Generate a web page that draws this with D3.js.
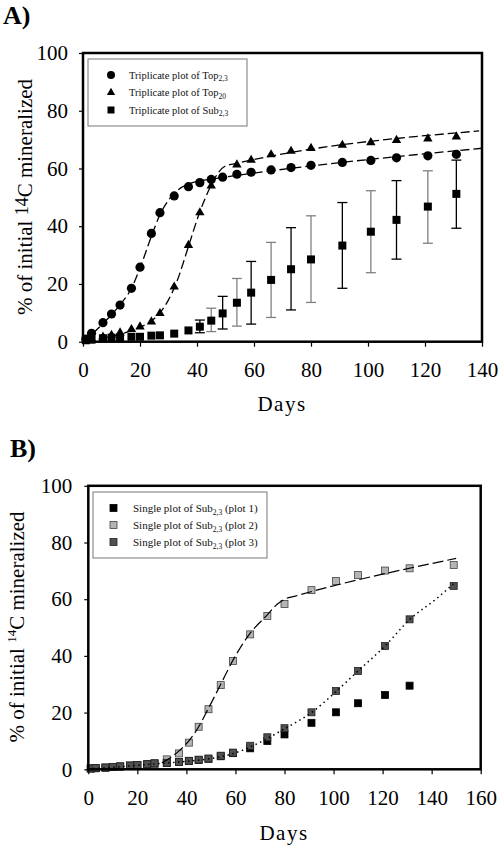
<!DOCTYPE html>
<html><head><meta charset="utf-8">
<script src="https://cdn.jsdelivr.net/npm/d3@7"></script>
<style>body{margin:0;background:#fff}svg{display:block}</style>
</head><body>
<svg id="c" width="500" height="846"></svg>
<script>
// ---------- Panel A data ----------
const daysA = [1,3,7,10,13,17,20,24,27,32,37,41,45,49,54,59,66,73,80,91,101,110,121,131];
const top23 = [0.9,2.9,6.6,9.6,12.7,18.5,25.8,37.5,44.7,50.5,53.7,55.1,56.2,57.0,58,58.7,59.5,60.3,61.1,62.1,62.8,63.7,64.4,64.9];
const top20 = [0.5,1.0,1.7,2.3,3.1,4.3,5.2,6.9,9.8,19,33.4,44.7,54,null,61.3,62.9,64.8,66,67,68.1,69,69.8,70.3,71];
const sub23 = [0.5,0.7,1.2,1.4,1.5,1.7,1.7,2.1,2.2,2.8,3.9,5.2,7.3,9.8,13.5,17,21.4,25.1,28.5,33.3,38.1,42.2,46.8,51.2];
const sub23Low  = [null,null,null,null,null,null,null,null,null,null,null,3.1,3.5,4.4,5.4,6.1,8.4,11,13.6,18.5,23.9,28.6,34.1,39.3];
const sub23High = [null,null,null,null,null,null,null,null,null,null,null,7.5,11.6,15.7,21.9,27.8,34.4,39.5,43.6,48.2,52.3,55.8,59.2,62.9];
// fitted curves
const fit23Days = [0,3,7,10,13,17,20,24,27,30,33,37,41,45,140];
const fit23Vals = [0.3,2.5,6.3,9.3,12.8,18.5,25.5,36.5,44,49,52.3,54.6,55.7,56.3,67];
const fit20Days = [1,10,17,20,24,27,30,33,37,41,45,47.5,50,53,139];
const fit20Vals = [0.5,1.8,3.8,5,7.2,10,14.5,21,33,45,54.3,58.6,60.9,61.6,73];
const xTicksA = [0,20,40,60,80,100,120,140];
const yTicks = [0,20,40,60,80,100];

// ---------- Panel B data ----------
const daysB = [1,3,7,10,13,17,20,24,27,32,37,41,45,49,54,59,66,73,80,91,101,110,121,131,149];
const plot1 = [0.3,0.4,0.6,0.8,1.0,1.3,1.5,1.8,2.0,2.2,2.6,2.9,3.3,3.7,4.6,5.7,7.4,10,12.3,16.4,20.1,23.3,26.2,29.5,null];
const plot2 = [0.3,0.4,0.6,0.8,1.0,1.3,1.5,1.8,2.1,3.5,5.6,9.4,15,21.2,29.7,38.2,47.6,54.1,58.3,63.2,66.4,68.5,70.1,70.9,72.1];
const plot3 = [0.3,0.4,0.6,0.8,1.0,1.3,1.5,1.8,2.1,2.3,2.6,3.0,3.4,3.8,4.8,5.9,8.3,11.3,14.5,20.1,27.6,34.7,43.5,52.9,64.7];
const fit2Days = [30,33,37,41,45,49,54,59,66,73,77,80,84,150];
const fit2Vals = [2.3,3.8,6.5,10,15,21.5,30,38.5,48,54.5,58.2,60,61,74.4];
const fit3Days = [0,10,20,30,40,50,60,70,80,91,101,110,121,131,142,149];
const fit3Vals = [0.2,0.7,1.4,2.1,2.8,3.8,5.8,9.5,14.3,20,27.4,34.7,43.5,52.8,60.2,65.5];
const xTicksB = [0,20,40,60,80,100,120,140,160];

const svg = d3.select('#c');
const FONT = 'Liberation Serif, Times New Roman, serif';

function axes(g, x, y, xt, yt, xPad, yPad) {
  const ax = g.append('g').attr('transform', `translate(0,${y.range()[0]})`)
    .call(d3.axisBottom(x).tickValues(xt).tickFormat(d3.format('d')).tickSize(5).tickPadding(xPad));
  const ay = g.append('g').attr('transform', `translate(${x.range()[0]},0)`)
    .call(d3.axisLeft(y).tickValues(yt).tickFormat(d3.format('d')).tickSize(4).tickPadding(yPad));
  [ax, ay].forEach(a => {
    a.select('.domain').remove();
    a.selectAll('line').attr('stroke', '#000').attr('stroke-width', 1.2);
    a.selectAll('text').attr('font-family', FONT).attr('font-size', 21).attr('fill', '#000');
  });
  g.append('rect').attr('x', x.range()[0]).attr('y', y.range()[1])
    .attr('width', x.range()[1] - x.range()[0]).attr('height', y.range()[0] - y.range()[1])
    .attr('fill', 'none').attr('stroke', '#000').attr('stroke-width', 2.5);
}

function yTitle(g, cx, cy, supSize, supShift, size) {
  const t = g.append('text').attr('transform', `translate(${cx},${cy}) rotate(-90)`)
    .attr('text-anchor', 'middle').attr('font-family', FONT).attr('font-size', size).attr('fill', '#000');
  t.append('tspan').text('% of initial ');
  t.append('tspan').attr('font-size', supSize).attr('dy', -supShift).text('14');
  t.append('tspan').attr('dy', supShift).text('C mineralized');
}

function fitLine(g, x, y, ds, vs, dash, w) {
  const pts = ds.map((d, i) => [d, vs[i]]);
  g.append('path').datum(pts)
    .attr('d', d3.line().x(p => x(p[0])).y(p => y(p[1])).curve(d3.curveMonotoneX))
    .attr('fill', 'none').attr('stroke', '#000').attr('stroke-width', w).attr('stroke-dasharray', dash);
}

// ================= Panel A =================
const xA = d3.scaleLinear([0, 140], [83, 482]);
const yA = d3.scaleLinear([0, 100], [341.7, 53]);
const gA = svg.append('g');

svg.append('text').attr('x', 3).attr('y', 24).attr('font-family', FONT).attr('font-weight', 'bold')
  .attr('font-size', 26).text('A)');

// error bars
const errA = daysA.map((d, i) => ({d, lo: sub23Low[i], hi: sub23High[i]}))
  .filter(e => e.lo != null);
errA.forEach((e, j) => {
  const col = j % 2 ? '#808080' : '#000';
  const xx = xA(e.d);
  gA.append('line').attr('x1', xx).attr('x2', xx).attr('y1', yA(e.lo)).attr('y2', yA(e.hi))
    .attr('stroke', col).attr('stroke-width', 1.3);
  [e.lo, e.hi].forEach(v => gA.append('line').attr('x1', xx - 5).attr('x2', xx + 5)
    .attr('y1', yA(v)).attr('y2', yA(v)).attr('stroke', col).attr('stroke-width', 1.3));
});

// markers
gA.selectAll('.sq').data(daysA.map((d, i) => [d, sub23[i]])).join('rect')
  .attr('x', p => xA(p[0]) - 4).attr('y', p => yA(p[1]) - 4).attr('width', 8).attr('height', 8).attr('fill', '#000');
const tri = d3.symbol().type(d3.symbolTriangle).size(38);
gA.selectAll('.tr').data(daysA.map((d, i) => [d, top20[i]]).filter(p => p[1] != null)).join('path')
  .attr('d', tri).attr('transform', p => `translate(${xA(p[0])},${yA(p[1])})`).attr('fill', '#000');
gA.selectAll('.ci').data(daysA.map((d, i) => [d, top23[i]])).join('circle')
  .attr('cx', p => xA(p[0])).attr('cy', p => yA(p[1])).attr('r', 4.6).attr('fill', '#000');

fitLine(gA, xA, yA, fit23Days, fit23Vals, '9,4', 1.3);
fitLine(gA, xA, yA, fit20Days, fit20Vals, '9,4', 1.3);

axes(gA, xA, yA, xTicksA, yTicks, 15, 11);
gA.append('text').attr('x', 282).attr('y', 411).attr('text-anchor', 'middle').attr('font-family', FONT)
  .attr('font-size', 21).attr('letter-spacing', 1.5).text('Days');
yTitle(gA, 32, 197, 18, 4, 21);

// legend A
gA.append('rect').attr('x', 88).attr('y', 59).attr('width', 159).attr('height', 67)
  .attr('fill', '#fff').attr('stroke', '#777').attr('stroke-width', 1);
const legA = [['circle', 'Top', '2,3'], ['tri', 'Top', '20'], ['sq', 'Sub', '2,3']];
legA.forEach((l, i) => {
  const cy = 75 + i * 17.5;
  if (l[0] === 'circle') gA.append('circle').attr('cx', 111).attr('cy', cy).attr('r', 4).attr('fill', '#000');
  if (l[0] === 'tri') gA.append('path').attr('d', d3.symbol().type(d3.symbolTriangle).size(30))
    .attr('transform', `translate(111,${cy})`).attr('fill', '#000');
  if (l[0] === 'sq') gA.append('rect').attr('x', 107.5).attr('y', cy - 3.5).attr('width', 7).attr('height', 7).attr('fill', '#000');
  const t = gA.append('text').attr('x', 129).attr('y', cy + 3.5).attr('font-family', FONT).attr('font-size', 10.5).attr('fill', '#111');
  t.append('tspan').text('Triplicate plot of ' + l[1]);
  t.append('tspan').attr('font-size', 7.5).attr('dy', 2.5).text(l[2]);
});

// ================= Panel B =================
const xB = d3.scaleLinear([0, 160], [88.3, 480.7]);
const yB = d3.scaleLinear([0, 100], [769.3, 485.8]);
const gB = svg.append('g');

svg.append('text').attr('x', 10).attr('y', 457).attr('font-family', FONT).attr('font-weight', 'bold')
  .attr('font-size', 26).text('B)');

const sqB = (data, fill, stroke, cls) => gB.selectAll('.' + cls)
  .data(daysB.map((d, i) => [d, data[i]]).filter(p => p[1] != null)).join('rect').attr('class', cls)
  .attr('x', p => xB(p[0]) - 3.5).attr('y', p => yB(p[1]) - 3.5).attr('width', 7).attr('height', 7)
  .attr('fill', fill).attr('stroke', stroke).attr('stroke-width', 0.8);
sqB(plot1, '#000', '#000', 'p1');
sqB(plot2, '#b4b4b4', '#444', 'p2');
sqB(plot3, '#505050', '#222', 'p3');

fitLine(gB, xB, yB, fit2Days, fit2Vals, '11,4', 1.2);
fitLine(gB, xB, yB, fit3Days, fit3Vals, '1.5,3.5', 1.5);

axes(gB, xB, yB, xTicksB, yTicks, 16, 12);
gB.append('text').attr('x', 284).attr('y', 840).attr('text-anchor', 'middle').attr('font-family', FONT)
  .attr('font-size', 21).attr('letter-spacing', 1.5).text('Days');
yTitle(gB, 24, 627, 13, 8, 21);

// legend B
gB.append('rect').attr('x', 93).attr('y', 492).attr('width', 174).attr('height', 66)
  .attr('fill', '#fff').attr('stroke', '#777').attr('stroke-width', 1);
const legB = [['#000', '#000', '1'], ['#b4b4b4', '#444', '2'], ['#505050', '#222', '3']];
legB.forEach((l, i) => {
  const cy = 508 + i * 17;
  gB.append('rect').attr('x', 110).attr('y', cy - 3.5).attr('width', 7).attr('height', 7)
    .attr('fill', l[0]).attr('stroke', l[1]).attr('stroke-width', 0.8);
  const t = gB.append('text').attr('x', 133).attr('y', cy + 4).attr('font-family', FONT).attr('font-size', 11).attr('fill', '#111');
  t.append('tspan').text('Single plot of Sub');
  t.append('tspan').attr('font-size', 7.5).attr('dy', 2.5).text('2,3');
  t.append('tspan').attr('dy', -2.5).text(' (plot ' + l[2] + ')');
});
</script>
</body></html>
